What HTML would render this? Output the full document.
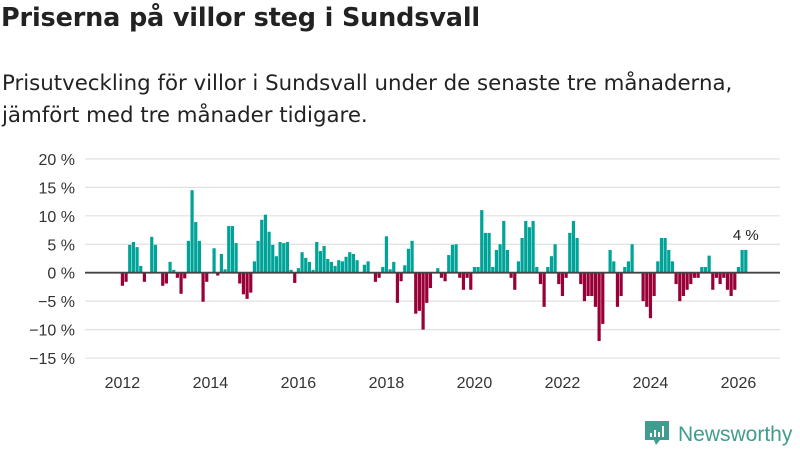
<!DOCTYPE html>
<html><head><meta charset="utf-8">
<style>
body{margin:0;width:800px;height:450px;background:#fff;overflow:hidden;font-family:"Liberation Sans",sans-serif;}
#wrap{position:relative;width:800px;height:450px;}
h1{position:absolute;left:1px;top:3px;margin:0;font-family:"DejaVu Sans",sans-serif;font-size:25.5px;font-weight:bold;color:#222;letter-spacing:-0.15px;}
.sub{position:absolute;left:2px;top:68px;margin:0;font-family:"DejaVu Sans",sans-serif;font-size:21.3px;line-height:32px;color:#222;letter-spacing:0;}
svg{position:absolute;left:0;top:0;}
</style></head>
<body>
<div id="wrap">
<h1>Priserna på villor steg i Sundsvall</h1>
<p class="sub">Prisutveckling för villor i Sundsvall under de senaste tre månaderna,<br>jämfört med tre månader tidigare.</p>
<svg id="chart" width="800" height="450"></svg>
</div>
<script>
const values = [-2.3,-1.6,4.9,5.4,4.5,1.2,-1.6,0,6.3,4.9,
0,-2.3,-1.9,1.9,0.5,-0.9,-3.7,-1.0,5.6,14.5,
8.9,5.6,-5.1,-1.6,0,4.3,-0.5,3.3,0.6,8.2,
8.2,5.2,-1.9,-3.8,-4.6,-3.5,2.0,5.6,9.3,10.2,
7.2,4.9,2.9,5.4,5.2,5.4,0.5,-1.8,0.8,3.6,
2.6,1.9,0.5,5.4,3.8,4.7,2.4,1.9,1.2,2.2,
2.0,2.8,3.6,3.3,2.2,0,1.4,2.0,0,-1.6,
-0.9,1.0,6.4,0.6,1.9,-5.3,-1.5,1.3,4.2,5.6,
-7.2,-6.7,-10.0,-5.3,-2.7,0,0.8,-0.9,-1.5,3.1,
4.9,5.0,-0.9,-3.0,-0.9,-3.0,1.0,1.0,11.0,7.0,
7.0,1.0,4.0,5.0,9.1,4.0,-0.9,-3.0,2.0,6.1,
9.1,8.0,9.1,1.0,-2.0,-6.0,1.0,2.9,5.0,-2.0,
-4.1,-0.9,7.0,9.1,6.1,-2.0,-5.0,-4.1,-4.1,-6.0,
-12.0,-9.0,0,4.0,2.0,-6.0,-4.1,1.0,2.0,5.0,
0,0,-5.0,-6.0,-8.0,-4.1,2.0,6.1,6.1,4.0,
2.0,-2.0,-5.0,-4.1,-3.0,-2.0,-0.9,-0.9,1.0,1.0,
3.0,-3.0,-0.9,-2.0,-0.9,-3.0,-4.1,-3.0,1.0,4.0,4.0];
const startYear = 2012;
const yTicks = [-15,-10,-5,0,5,10,15,20];
const yTickLabels = ["−15 %","−10 %","−5 %","0 %","5 %","10 %","15 %","20 %"];
const xTicks = [2012,2014,2016,2018,2020,2022,2024,2026];
const lastLabel = "4 %";

const NS="http://www.w3.org/2000/svg";
const svg=document.getElementById('chart');
function y(v){return 272.7 - v*5.69;}
function xIdx(i){return 120.8 + i*3.667;}
function xYear(yr){return xIdx((yr-startYear)*12)+1.6;}
function mk(tag,attrs){const e=document.createElementNS(NS,tag);for(const k in attrs)e.setAttribute(k,attrs[k]);svg.appendChild(e);return e;}

yTicks.forEach((t,k)=>{
  if(t!==0){
    const g=mk('line',{x1:85,x2:780,y1:y(t),y2:y(t),stroke:'#e0e0e0','stroke-width':1.2});
    
    
  }
  const l=mk('text',{x:75,y:y(t)+6,'text-anchor':'end','font-size':16,fill:'#333','font-family':'Liberation Sans, sans-serif'});
  l.textContent=yTickLabels[k];
  
  
});
values.forEach((v,i)=>{
  const top=v>=0?y(v):y(0);
  const h=Math.abs(y(v)-y(0));
  const b=mk('rect',{x:xIdx(i),y:top,width:3.2,height:h,fill:v>=0?'#00a397':'#990038'});
  
  
});
const z=mk('line',{x1:85,x2:780,y1:y(0),y2:y(0),stroke:'#444','stroke-width':1.8});


xTicks.forEach(t=>{
  const l=mk('text',{x:xYear(t),y:388,'text-anchor':'middle','font-size':16,fill:'#333','font-family':'Liberation Sans, sans-serif'});
  l.textContent=t;
  
  
});
const li=values.length-1;
const ll=mk('text',{x:xIdx(li)+1.6,y:y(Math.max(values[li],0))-10,'text-anchor':'middle','font-size':15,fill:'#222','font-family':'Liberation Sans, sans-serif'});
ll.textContent=lastLabel;



const lg=mk('path',{d:'M645 421 h24 v19 h-9 l-4 5 l-2 -5 h-9 z',fill:'#3f9c8f'});


[[650,433,2,4],[654,430,2,7],[658,432,2,5],[662,426,2,11]].forEach(r=>{
  const e=mk('rect',{x:r[0],y:r[1],width:r[2],height:r[3],fill:'#fff'});
  
  
});
const lt=mk('text',{x:678,y:441,'font-size':21,fill:'#3f9c8f','font-family':'Liberation Sans, sans-serif'});
lt.textContent='Newsworthy';


</script>
</body></html>
